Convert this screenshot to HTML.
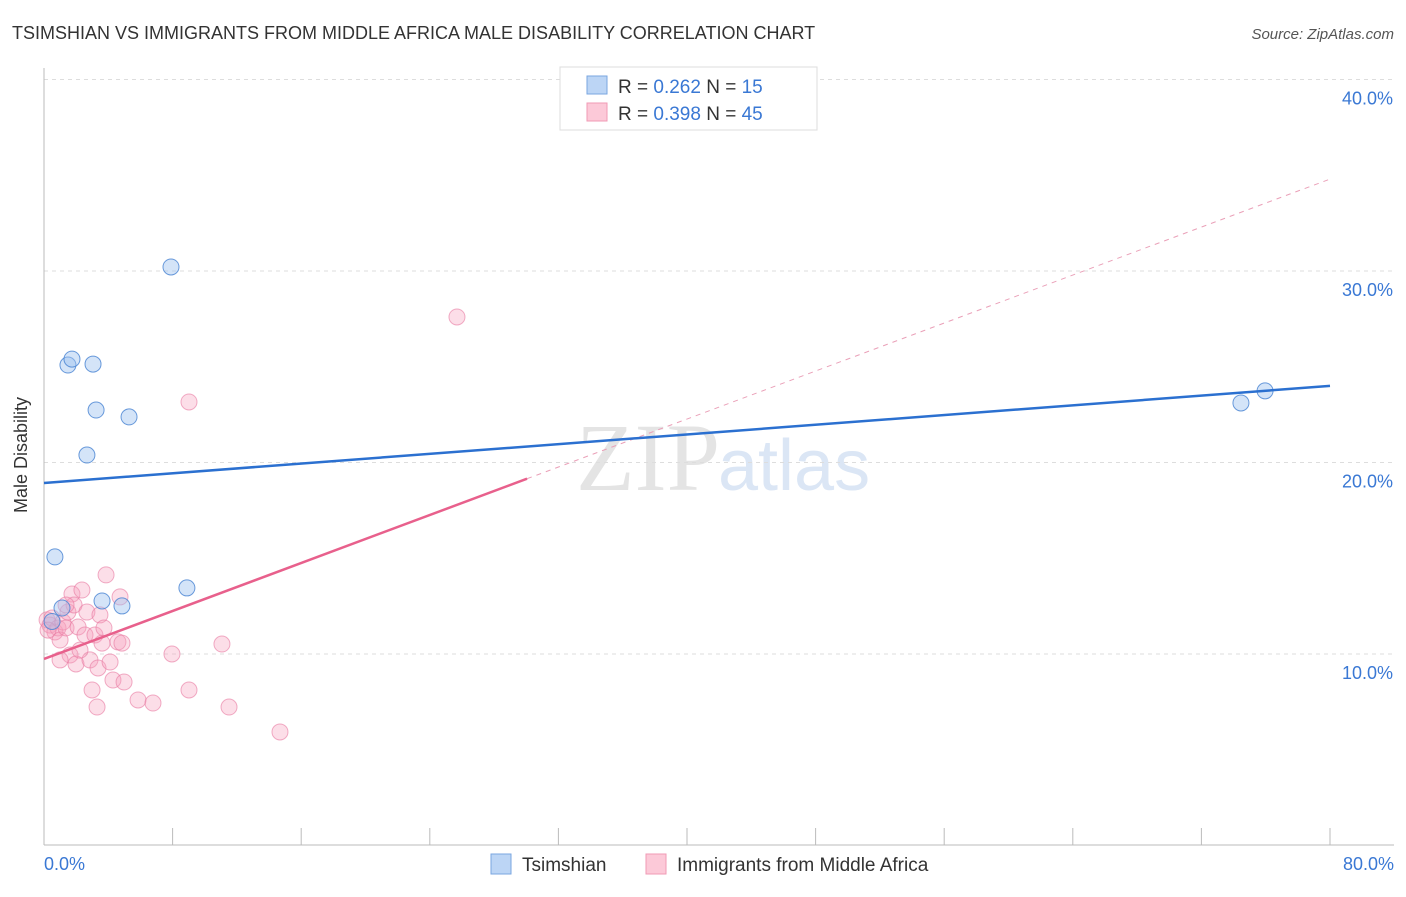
<!DOCTYPE html>
<html><head><meta charset="utf-8"><style>
body{margin:0;background:#fff;font-family:"Liberation Sans",sans-serif}
</style></head><body>
<svg width="1406" height="892" xmlns="http://www.w3.org/2000/svg">
<text x="12" y="39" font-size="18" fill="#333">TSIMSHIAN VS IMMIGRANTS FROM MIDDLE AFRICA MALE DISABILITY CORRELATION CHART</text>
<text x="1394" y="39" font-size="15" fill="#555" text-anchor="end" font-style="italic">Source: ZipAtlas.com</text>
<text x="720" y="490" font-size="96" fill="#e4e4e4" text-anchor="end" font-family="Liberation Serif">ZIP</text>
<text x="718" y="490" font-size="72" fill="#dbe6f5">atlas</text>
<g id="grid"></g><g id="axes"></g><g id="marks"></g>
<text x="27" y="455" font-size="18" fill="#333" text-anchor="middle" transform="rotate(-90 27 455)">Male Disability</text>
<text x="44" y="870" font-size="18" fill="#3a78d4">0.0%</text>
<text x="1394" y="870" font-size="18" fill="#3a78d4" text-anchor="end">80.0%</text>
<g>
<rect x="560" y="67" width="257" height="63" fill="#fff" stroke="#ddd"/>
<rect x="587" y="76" width="20" height="18" fill="#bcd5f5" stroke="#7aa6e0"/>
<rect x="587" y="103" width="20" height="18" fill="#fcc9d8" stroke="#f09ab5"/>
<text x="618" y="93" font-size="19" fill="#333">R = <tspan fill="#3a78d4">0.262</tspan>   N = <tspan fill="#3a78d4"> 15</tspan></text>
<text x="618" y="120" font-size="19" fill="#333">R = <tspan fill="#3a78d4">0.398</tspan>   N = <tspan fill="#3a78d4">45</tspan></text>
</g>
<g>
<rect x="491" y="854" width="20" height="20" fill="#bcd5f5" stroke="#7aa6e0"/>
<text x="522" y="871" font-size="19" fill="#333">Tsimshian</text>
<rect x="646" y="854" width="20" height="20" fill="#fcc9d8" stroke="#f09ab5"/>
<text x="677" y="871" font-size="19" fill="#333">Immigrants from Middle Africa</text>
</g>
</svg>
<script>
const yTicks=[10,20,30,40];
const xTickCount=10;
const blueX=[0.68,1.12,1.49,1.74,3.05,3.24,2.67,3.61,4.85,5.29,7.9,8.89,74.46,75.96,0.5];
const blueY=[15.07,12.4,25.09,25.4,25.14,22.74,20.39,12.77,12.51,22.38,30.21,13.45,23.11,23.74,11.7];
const pinkX=[0.19,0.37,0.5,0.68,0.87,1.0,1.18,1.37,1.49,1.62,1.74,1.87,1.99,2.12,2.36,2.55,2.67,2.86,2.99,3.17,3.3,3.36,3.48,3.61,3.73,3.86,4.11,4.29,4.6,4.73,4.85,4.98,5.85,6.78,7.96,9.02,9.02,11.07,11.51,14.68,25.69,1.0,2.24,1.37,0.25];
const pinkY=[11.78,11.51,11.88,11.15,11.36,10.73,11.67,11.36,12.19,9.95,13.13,12.56,9.48,11.41,13.34,10.99,12.19,9.69,8.12,10.99,7.23,9.27,12.04,10.57,11.36,14.13,9.58,8.64,10.63,12.98,10.57,8.54,7.6,7.44,10.0,8.12,23.16,10.52,7.23,5.93,27.6,9.69,10.2,12.56,11.25];
const blueTrend=[18.93,24.0];
const pinkTrend=[9.74,34.8];
const pinkSolidEnd=30.05;
const X=v=>44+v*16.075, Y=v=>845.5-v*19.15;
const NS="http://www.w3.org/2000/svg";
function mk(t,a,p){const e=document.createElementNS(NS,t);for(const k in a)e.setAttribute(k,a[k]);document.getElementById(p).appendChild(e);return e;}
yTicks.forEach(t=>{
const g=mk('line',{x1:44,x2:1394,y1:Y(t),y2:Y(t),stroke:'#ddd','stroke-dasharray':'4,4'},'grid');


const l=mk('text',{x:1393,y:Y(t)+25,'font-size':18,fill:'#3a78d4','text-anchor':'end'},'grid');
l.textContent=t.toFixed(1)+'%';


});
const ax=mk('line',{x1:44,x2:44,y1:68,y2:845,stroke:'#bbb'},'axes');


const bx=mk('line',{x1:44,x2:1394,y1:845,y2:845,stroke:'#bbb'},'axes');


for(let i=0;i<=xTickCount;i++){const v=80*i/xTickCount;
const t=mk('line',{x1:X(v),x2:X(v),y1:828,y2:845,stroke:'#bbb'},'axes');

}
const pd=mk('line',{x1:X(pinkSolidEnd),y1:Y(pinkTrend[0]+(pinkTrend[1]-pinkTrend[0])*pinkSolidEnd/80),x2:X(80),y2:Y(pinkTrend[1]),stroke:'#eaa0b8','stroke-dasharray':'5,5','stroke-width':1},'marks');


pinkX.forEach((x,i)=>{const c=mk('circle',{cx:X(x),cy:Y(pinkY[i]),r:8,fill:'rgba(246,160,188,0.35)',stroke:'rgba(232,120,160,0.6)'},'marks');

});
blueX.forEach((x,i)=>{const c=mk('circle',{cx:X(x),cy:Y(blueY[i]),r:8,fill:'rgba(160,196,240,0.45)',stroke:'rgba(70,130,210,0.8)'},'marks');

});
const bt=mk('line',{x1:X(0),y1:Y(blueTrend[0]),x2:X(80),y2:Y(blueTrend[1]),stroke:'#2b70d0','stroke-width':2.5},'marks');


const pt=mk('line',{x1:X(0),y1:Y(pinkTrend[0]),x2:X(pinkSolidEnd),y2:Y(pinkTrend[0]+(pinkTrend[1]-pinkTrend[0])*pinkSolidEnd/80),stroke:'#e8608c','stroke-width':2.5},'marks');


</script>
</body></html>
